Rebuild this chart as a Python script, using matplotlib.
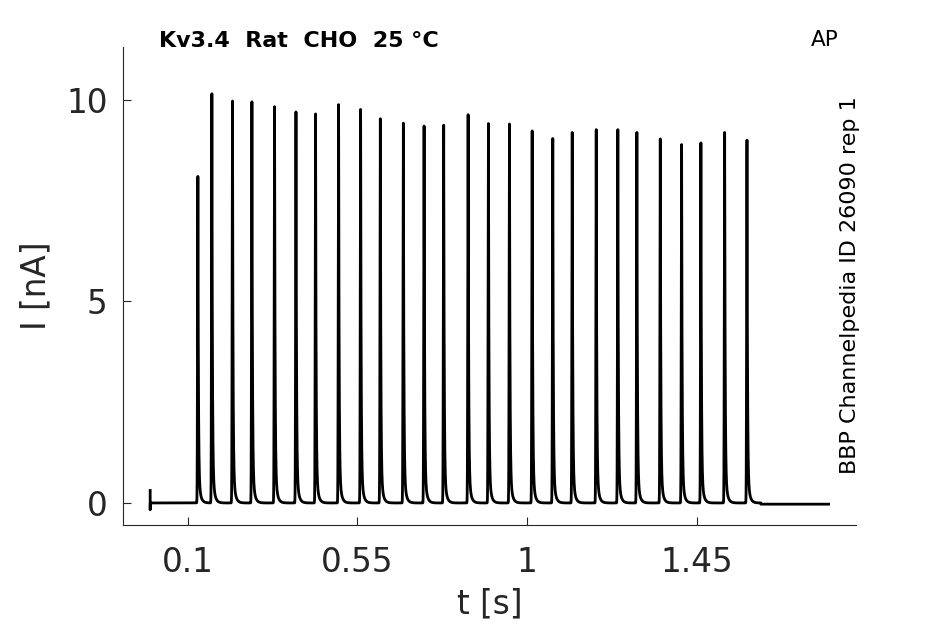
import numpy as np
import matplotlib
matplotlib.use('Agg')
import matplotlib.pyplot as plt

# spike times [s] and peak currents [nA]
spike_t = [0.1266, 0.1637, 0.2184, 0.2699, 0.3300, 0.3868, 0.4388, 0.4999,
           0.5583, 0.6106, 0.6717, 0.7267, 0.7787, 0.8435, 0.8974, 0.9532,
           1.0134, 1.0681, 1.1197, 1.1834, 1.2407, 1.2912, 1.3533, 1.4099,
           1.4611, 1.5241, 1.5833]
spike_peak = [8.10, 10.15, 9.97, 9.95, 9.83, 9.70, 9.65, 9.88,
              9.76, 9.53, 9.42, 9.35, 9.37, 9.63, 9.41, 9.40,
              9.23, 9.04, 9.19, 9.26, 9.26, 9.19, 9.03, 8.89,
              8.93, 9.19, 9.00]
onset_transient = [0.31, -0.17]   # capacitive blip at t = 0
stim_end = 1.62
post_level = -0.03
t_end = 1.80

xticks = [0.1, 0.55, 1, 1.45]
xticklabels = ['0.1', '0.55', '1', '1.45']
yticks = [0, 5, 10]


def build_trace():
    t = np.arange(0, t_end, 0.0001)
    i = np.zeros_like(t)
    i[t > stim_end] = post_level
    for ts, a in zip(spike_t, spike_peak):
        d = t - ts
        rise = a * np.exp(-d**2 / (2 * 0.0009**2))
        decay = a * (0.9 * np.exp(-d / 0.0013) + 0.1 * np.exp(-d / 0.005))
        i += np.where(d < 0, rise, decay)
    t = np.concatenate([[0, 0], t])
    i = np.concatenate([onset_transient, i])
    return t, i


def main():
    dark = '#262626'
    fig = plt.figure(figsize=(9.45, 6.24), dpi=100)
    ax = fig.add_axes([0.130, 0.1587, 0.776, 0.766])

    t, i = build_trace()
    ax.plot(t, i, color='black', lw=2.0)

    ax.set_xlim(-0.0725, 1.873)
    ax.set_ylim(-0.546, 11.31)
    ax.set_xticks(xticks)
    ax.set_xticklabels(xticklabels)
    ax.set_yticks(yticks)
    ax.tick_params(direction='in', length=6, width=0.8, colors=dark,
                   labelsize=23.5)
    ax.tick_params(axis='x', pad=15)
    ax.tick_params(axis='y', pad=11)
    for s in ['top', 'right']:
        ax.spines[s].set_visible(False)
    for s in ['left', 'bottom']:
        ax.spines[s].set_color(dark)
        ax.spines[s].set_linewidth(0.8)

    ax.set_xlabel('t [s]', fontsize=23.5, color=dark, labelpad=6)
    ax.set_ylabel('I [nA]', fontsize=23.5, color=dark, labelpad=10)

    fig.text(159 / 945, 1 - 47 / 624, 'Kv3.4  Rat  CHO  25 °C',
             fontsize=16, fontweight='bold', va='baseline', ha='left')
    fig.text(811 / 945, 1 - 46 / 624, 'AP', fontsize=15.5,
             va='baseline', ha='left')
    fig.text(850 / 945, 1 - 285 / 624, 'BBP Channelpedia ID 26090 rep 1',
             fontsize=16, rotation=90, va='center', ha='center')

    fig.savefig('out.png', dpi=100)


if __name__ == '__main__':
    main()
